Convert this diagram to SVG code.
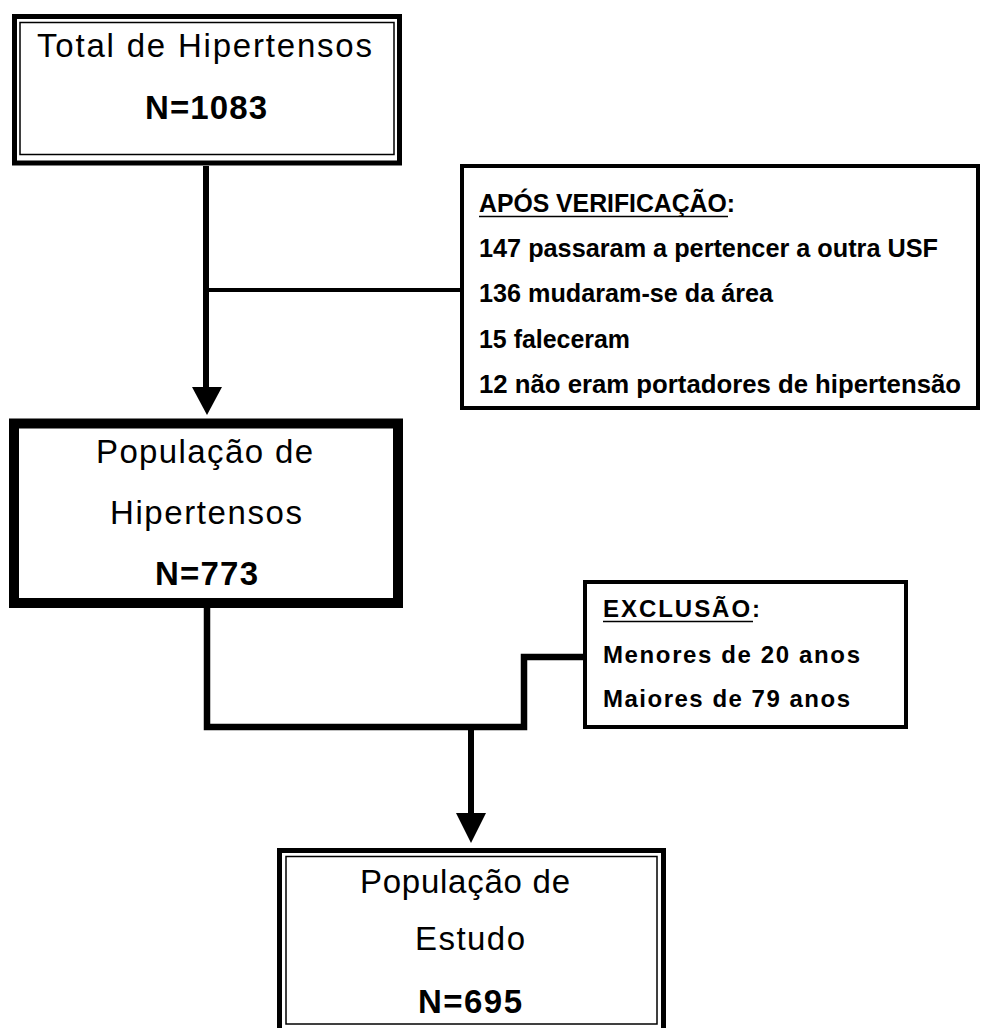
<svg xmlns="http://www.w3.org/2000/svg" width="981" height="1028" viewBox="0 0 981 1028">
<style>
.thick{fill:#fff;stroke:#000;stroke-width:5}
.thin{fill:none;stroke:#000;stroke-width:1.5}
.heavy{fill:#fff;stroke:#000;stroke-width:10}
.note{fill:#fff;stroke:#000;stroke-width:4}
.t{font-family:"Liberation Sans",Arial,sans-serif;fill:#000}
.big{font-size:33px}
.bold{font-weight:bold}
.n1{font-size:26px;font-weight:bold}
.n2{font-size:24px;font-weight:bold}
.ul{stroke:#000;stroke-width:1.6}
.line{fill:none;stroke:#000;stroke-linejoin:miter;stroke-linecap:butt}
.head{fill:#000}
</style>
<rect width="981" height="1028" fill="#fff"/>
<g id="connectors">
  <line class="line" x1="206" y1="166" x2="206" y2="390" stroke-width="6"/>
  <line class="line" x1="206" y1="290" x2="462" y2="290" stroke-width="4"/>
  <polygon class="head" points="192,387 222,387 207,415"/>
  <polyline class="line" points="207,608 207,727 524,727 524,657 585,657" stroke-width="6.5"/>
  <line class="line" x1="471" y1="727" x2="471" y2="816" stroke-width="6"/>
  <polygon class="head" points="456,813 486,813 471,843"/>
</g>
<g id="node-total">
  <rect class="thick" x="14.5" y="16.5" width="385" height="146.5"/>
  <rect class="thin" x="20" y="22.5" width="374" height="132"/>
  <text class="t big" x="37" y="57" textLength="335" lengthAdjust="spacing">Total de Hipertensos</text>
  <text class="t big bold" x="145" y="119" textLength="122" lengthAdjust="spacing">N=1083</text>
</g>
<g id="node-verificacao">
  <rect class="note" x="462" y="166" width="516" height="242"/>
  <text class="t n1" x="479" y="212" textLength="256" lengthAdjust="spacingAndGlyphs">APÓS VERIFICAÇÃO:</text>
  <line class="ul" x1="479" y1="216.5" x2="728" y2="216.5"/>
  <text class="t n1" x="479" y="257" textLength="459" lengthAdjust="spacingAndGlyphs">147 passaram a pertencer a outra USF</text>
  <text class="t n1" x="479" y="302" textLength="294" lengthAdjust="spacingAndGlyphs">136 mudaram-se da área</text>
  <text class="t n1" x="479" y="348" textLength="151" lengthAdjust="spacingAndGlyphs">15 faleceram</text>
  <text class="t n1" x="479" y="393" textLength="482" lengthAdjust="spacingAndGlyphs">12 não eram portadores de hipertensão</text>
</g>
<g id="node-populacao-hipertensos">
  <rect class="heavy" x="14" y="423.5" width="384" height="179.5"/>
  <text class="t big" x="96" y="463" textLength="217" lengthAdjust="spacing">População de</text>
  <text class="t big" x="110" y="524" textLength="192" lengthAdjust="spacing">Hipertensos</text>
  <text class="t big bold" x="155" y="585" textLength="103" lengthAdjust="spacing">N=773</text>
</g>
<g id="node-exclusao">
  <rect class="note" x="585" y="582" width="321" height="145"/>
  <text class="t n2" x="603" y="617" textLength="157" lengthAdjust="spacing">EXCLUSÃO:</text>
  <line class="ul" x1="603" y1="621.5" x2="753" y2="621.5"/>
  <text class="t n2" x="603" y="663" textLength="257" lengthAdjust="spacing">Menores de 20 anos</text>
  <text class="t n2" x="603" y="707" textLength="247" lengthAdjust="spacing">Maiores de 79 anos</text>
</g>
<g id="node-populacao-estudo">
  <rect class="thick" x="279.5" y="850.5" width="384" height="180"/>
  <rect class="thin" x="286" y="856.5" width="371" height="167.5"/>
  <text class="t big" x="360" y="893" textLength="210" lengthAdjust="spacing">População de</text>
  <text class="t big" x="415" y="950" textLength="110" lengthAdjust="spacing">Estudo</text>
  <text class="t big bold" x="418" y="1013" textLength="104" lengthAdjust="spacing">N=695</text>
</g>
</svg>
